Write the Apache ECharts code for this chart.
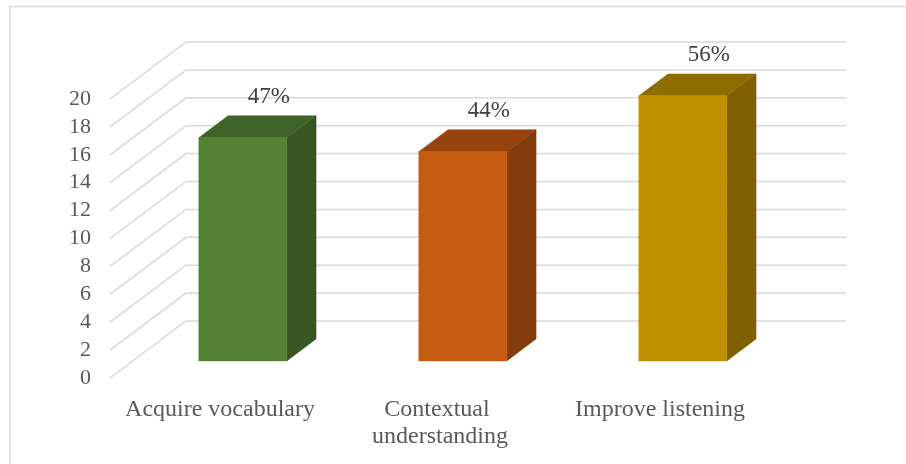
<!DOCTYPE html>
<html>
<head>
<meta charset="utf-8">
<script src="https://cdn.jsdelivr.net/npm/echarts@6/dist/echarts.min.js"></script>
<style>
  html, body { margin: 0; padding: 0; background: #fff; }
  #chart { width: 906px; height: 464px; }
</style>
</head>
<body>
<div id="chart"></div>
<script>
// Survey answers: number of respondents per benefit, with share labels
const categories = ['Acquire vocabulary', 'Contextual understanding', 'Improve listening'];
const counts = [16, 15, 19];
const shareLabels = ['47%', '44%', '56%'];
const yTicks = [0, 2, 4, 6, 8, 10, 12, 14, 16, 18, 20];

// Face colours per bar: front, side, top
const frontColors = ['#548235', '#c55a11', '#bf9000'];
const sideColors = ['#375623', '#843c0c', '#7f6000'];
const topColors = ['#3f6429', '#96430e', '#8f6c00'];

// Oblique projection of the depth axis (pixels for the full floor depth)
const DX = 76, DY = -57;
const D0 = 0.3, D1 = 0.685;   // bar depth span within the floor
const FACE = 0.4;             // front face width as share of category band

const SERIF = '"Liberation Serif", "Times New Roman", serif';

const chart = echarts.init(document.getElementById('chart'));

// Side wall diagonals and back wall gridlines, one polyline per tick
const wallSeries = {
  type: 'custom',
  z: 1,
  silent: true,
  data: yTicks.map(v => [0, v]),
  renderItem: function (params, api) {
    const cs = params.coordSys;
    const y = api.coord([0, api.value(1)])[1];
    const x0 = cs.x;
    return {
      type: 'polyline',
      shape: { points: [[x0, y], [x0 + DX, y + DY], [x0 + cs.width + DX, y + DY]] },
      style: { stroke: '#d9d9d9', lineWidth: 1.5, fill: null }
    };
  }
};

// 3D columns: front, side and top faces plus the share label
const barSeries = {
  type: 'custom',
  z: 3,
  data: counts.map((c, i) => [i, c]),
  renderItem: function (params, api) {
    const i = api.value(0);
    const base = api.coord([i, 0]);
    const top = api.coord([i, api.value(1)]);
    const half = api.size([1, 0])[0] * FACE / 2;
    const ox = D0 * DX, oy = D0 * DY;
    const dx = (D1 - D0) * DX, dy = (D1 - D0) * DY;
    const fl = base[0] - half + ox, fr = base[0] + half + ox;
    const yb = base[1] + oy, yt = top[1] + oy;
    return {
      type: 'group',
      children: [
        {
          type: 'polygon',
          shape: { points: [[fr, yt], [fr + dx, yt + dy], [fr + dx, yb + dy], [fr, yb]] },
          style: { fill: sideColors[i], stroke: sideColors[i], lineWidth: 0.5 }
        },
        {
          type: 'polygon',
          shape: { points: [[fl, yt], [fr, yt], [fr + dx, yt + dy], [fl + dx, yt + dy]] },
          style: { fill: topColors[i], stroke: topColors[i], lineWidth: 0.5 }
        },
        {
          type: 'rect',
          shape: { x: fl, y: yt, width: fr - fl, height: yb - yt },
          style: { fill: frontColors[i], stroke: frontColors[i], lineWidth: 0.5 }
        },
        {
          type: 'text',
          style: {
            text: shareLabels[i],
            x: (fl + fr) / 2 + 26,
            y: yt + dy - 19,
            align: 'center',
            verticalAlign: 'middle',
            fill: '#404040',
            font: '23px ' + SERIF
          }
        }
      ]
    };
  }
};

chart.setOption({
  animation: false,
  backgroundColor: '#ffffff',
  textStyle: { fontFamily: SERIF },
  graphic: [{
    type: 'polyline',
    shape: { points: [[10, 464], [10, 6.5], [906, 6.5]] },
    style: { stroke: '#d9d9d9', lineWidth: 1.5, fill: null },
    silent: true
  }],
  grid: { left: 110, right: 136, top: 99, bottom: 86 },
  xAxis: {
    type: 'category',
    data: categories,
    axisLine: { show: false },
    axisTick: { show: false },
    axisLabel: {
      interval: 0,
      margin: 18,
      fontSize: 24,
      lineHeight: 27,
      color: '#595959',
      width: 200,
      overflow: 'break',
      fontFamily: SERIF
    }
  },
  yAxis: {
    type: 'value',
    min: 0,
    max: 20,
    interval: 2,
    axisLine: { show: false },
    axisTick: { show: false },
    splitLine: { show: false },
    axisLabel: {
      margin: 19,
      fontSize: 22,
      color: '#595959',
      fontFamily: SERIF
    }
  },
  series: [wallSeries, barSeries]
});
</script>
</body>
</html>
